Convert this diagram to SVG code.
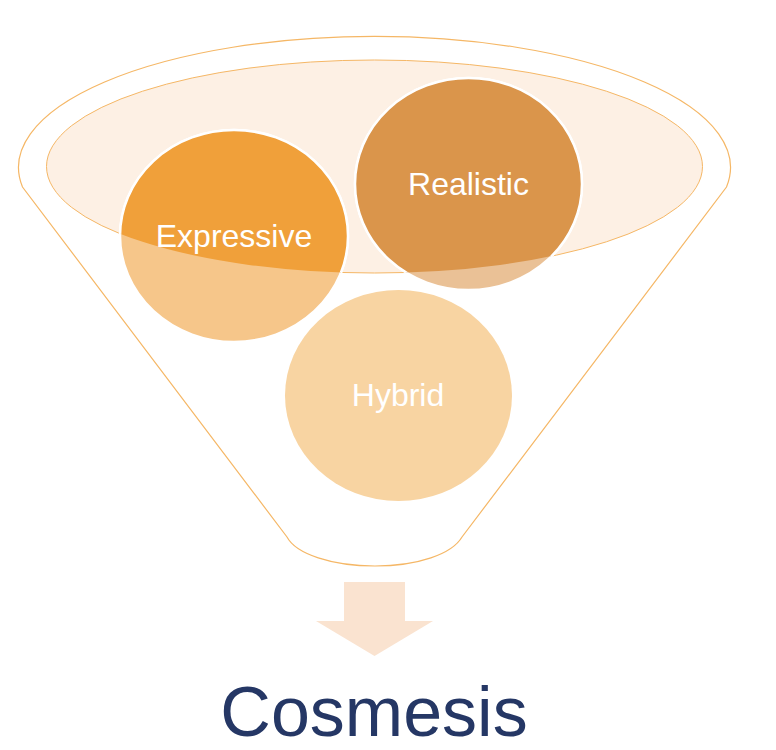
<svg xmlns="http://www.w3.org/2000/svg" width="776" height="750" viewBox="0 0 776 750">
  <defs>
    <clipPath id="rimClip">
      <ellipse cx="374.5" cy="166.5" rx="328" ry="106.5"/>
    </clipPath>
    <style>
      .lbl { font-family: "Liberation Sans", Arial, sans-serif; font-size: 32px; fill: #ffffff; text-anchor: middle; }
      .ring { stroke: #ffffff; stroke-width: 2.5; }
      .funnel { fill: #ffffff; stroke: #f5b766; stroke-width: 1.2; }
    </style>
  </defs>
  <rect width="776" height="750" fill="#ffffff"/>

  <g id="funnel">
    <path class="funnel" d="M 22.5,187 A 356 131 0 1 1 726.5,187 L 462,537 C 452,554 418,566 375,566 C 332,566 296,554 287,537 Z"/>
    <ellipse cx="374.5" cy="166.5" rx="328" ry="106.5" fill="#fdf0e4" stroke="#f5b766" stroke-width="1"/>
  </g>

  <g id="node-expressive">
    <ellipse class="ring" cx="234" cy="236" rx="114" ry="106" fill="#f6c68a"/>
    <ellipse cx="234" cy="236" rx="114" ry="106" fill="#f0a03a" clip-path="url(#rimClip)"/>
    <ellipse cx="234" cy="236" rx="114" ry="106" fill="none" class="ring" clip-path="url(#rimClip)"/>
    <text class="lbl" x="234" y="247">Expressive</text>
  </g>

  <g id="node-realistic">
    <ellipse class="ring" cx="468.5" cy="184" rx="113.5" ry="106" fill="#eac196"/>
    <ellipse cx="468.5" cy="184" rx="113.5" ry="106" fill="#da954b" clip-path="url(#rimClip)"/>
    <ellipse cx="468.5" cy="184" rx="113.5" ry="106" fill="none" class="ring" clip-path="url(#rimClip)"/>
    <text class="lbl" x="468.5" y="195">Realistic</text>
  </g>

  <g id="node-hybrid">
    <ellipse cx="398.5" cy="395.5" rx="113.5" ry="105.5" fill="#f8d4a2"/>
    <text class="lbl" x="398" y="406">Hybrid</text>
  </g>

  <g id="connectors">
    <path d="M 344,582 L 405,582 L 405,621 L 433,621 L 374.5,656 L 316,621 L 344,621 Z" fill="#fae3d0"/>
  </g>

  <g id="node-cosmesis">
    <text x="374" y="736" font-family="Liberation Sans, Arial, sans-serif" font-size="70" fill="#253765" text-anchor="middle">Cosmesis</text>
  </g>
</svg>
